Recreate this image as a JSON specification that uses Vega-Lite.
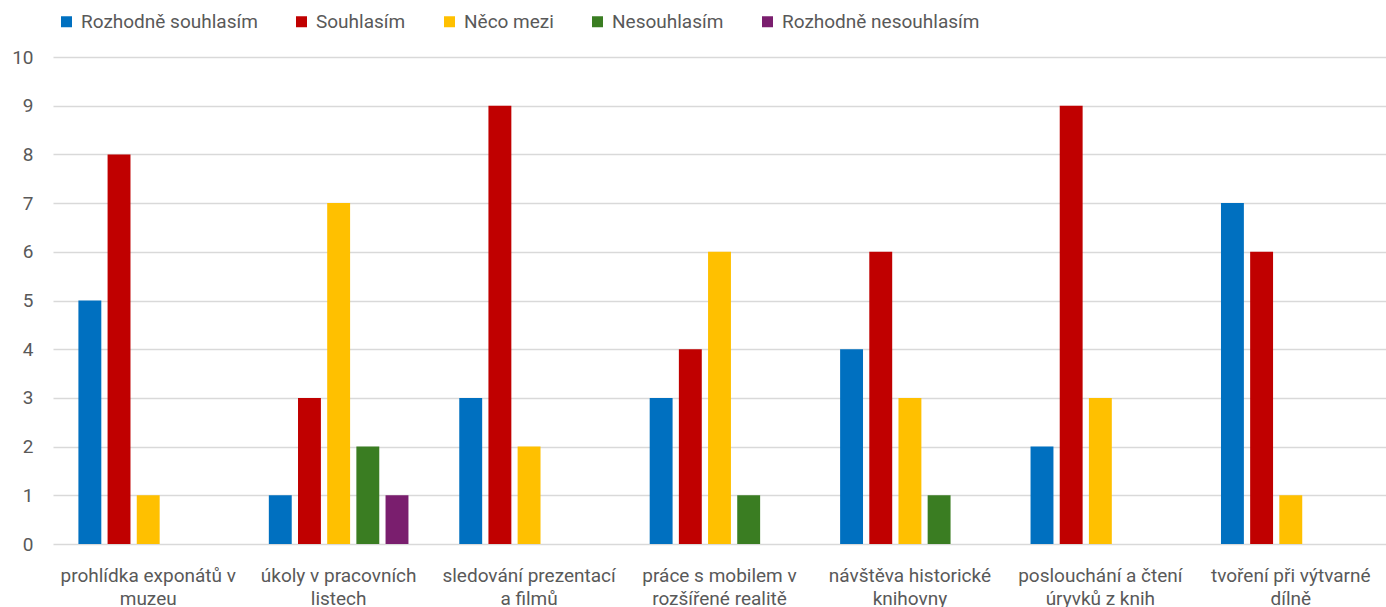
{
  "$schema": "https://vega.github.io/schema/vega-lite/v6.json",
  "autosize": {"type": "none"},
  "padding": {"left": 53, "top": 57, "right": 0, "bottom": 63},
  "width": 1333,
  "height": 487,
  "background": "white",
  "config": {
    "view": {"stroke": null},
    "font": "Roboto",
    "axis": {"labelFont": "Roboto", "labelColor": "#595959", "labelFontSize": 19},
    "legend": {"labelFont": "Roboto", "labelColor": "#595959", "labelFontSize": 19}
  },
  "data": {
    "values": [
      {"kategorie": "prohlídka exponátů v\nmuzeu", "odpoved": "Rozhodně souhlasím", "pocet": 5},
      {"kategorie": "prohlídka exponátů v\nmuzeu", "odpoved": "Souhlasím", "pocet": 8},
      {"kategorie": "prohlídka exponátů v\nmuzeu", "odpoved": "Něco mezi", "pocet": 1},
      {"kategorie": "prohlídka exponátů v\nmuzeu", "odpoved": "Nesouhlasím", "pocet": 0},
      {"kategorie": "prohlídka exponátů v\nmuzeu", "odpoved": "Rozhodně nesouhlasím", "pocet": 0},
      {"kategorie": "úkoly v pracovních\nlistech", "odpoved": "Rozhodně souhlasím", "pocet": 1},
      {"kategorie": "úkoly v pracovních\nlistech", "odpoved": "Souhlasím", "pocet": 3},
      {"kategorie": "úkoly v pracovních\nlistech", "odpoved": "Něco mezi", "pocet": 7},
      {"kategorie": "úkoly v pracovních\nlistech", "odpoved": "Nesouhlasím", "pocet": 2},
      {"kategorie": "úkoly v pracovních\nlistech", "odpoved": "Rozhodně nesouhlasím", "pocet": 1},
      {"kategorie": "sledování prezentací\na filmů", "odpoved": "Rozhodně souhlasím", "pocet": 3},
      {"kategorie": "sledování prezentací\na filmů", "odpoved": "Souhlasím", "pocet": 9},
      {"kategorie": "sledování prezentací\na filmů", "odpoved": "Něco mezi", "pocet": 2},
      {"kategorie": "sledování prezentací\na filmů", "odpoved": "Nesouhlasím", "pocet": 0},
      {"kategorie": "sledování prezentací\na filmů", "odpoved": "Rozhodně nesouhlasím", "pocet": 0},
      {"kategorie": "práce s mobilem v\nrozšířené realitě", "odpoved": "Rozhodně souhlasím", "pocet": 3},
      {"kategorie": "práce s mobilem v\nrozšířené realitě", "odpoved": "Souhlasím", "pocet": 4},
      {"kategorie": "práce s mobilem v\nrozšířené realitě", "odpoved": "Něco mezi", "pocet": 6},
      {"kategorie": "práce s mobilem v\nrozšířené realitě", "odpoved": "Nesouhlasím", "pocet": 1},
      {"kategorie": "práce s mobilem v\nrozšířené realitě", "odpoved": "Rozhodně nesouhlasím", "pocet": 0},
      {"kategorie": "návštěva historické\nknihovny", "odpoved": "Rozhodně souhlasím", "pocet": 4},
      {"kategorie": "návštěva historické\nknihovny", "odpoved": "Souhlasím", "pocet": 6},
      {"kategorie": "návštěva historické\nknihovny", "odpoved": "Něco mezi", "pocet": 3},
      {"kategorie": "návštěva historické\nknihovny", "odpoved": "Nesouhlasím", "pocet": 1},
      {"kategorie": "návštěva historické\nknihovny", "odpoved": "Rozhodně nesouhlasím", "pocet": 0},
      {"kategorie": "poslouchání a čtení\núryvků z knih", "odpoved": "Rozhodně souhlasím", "pocet": 2},
      {"kategorie": "poslouchání a čtení\núryvků z knih", "odpoved": "Souhlasím", "pocet": 9},
      {"kategorie": "poslouchání a čtení\núryvků z knih", "odpoved": "Něco mezi", "pocet": 3},
      {"kategorie": "poslouchání a čtení\núryvků z knih", "odpoved": "Nesouhlasím", "pocet": 0},
      {"kategorie": "poslouchání a čtení\núryvků z knih", "odpoved": "Rozhodně nesouhlasím", "pocet": 0},
      {"kategorie": "tvoření při výtvarné\ndílně", "odpoved": "Rozhodně souhlasím", "pocet": 7},
      {"kategorie": "tvoření při výtvarné\ndílně", "odpoved": "Souhlasím", "pocet": 6},
      {"kategorie": "tvoření při výtvarné\ndílně", "odpoved": "Něco mezi", "pocet": 1},
      {"kategorie": "tvoření při výtvarné\ndílně", "odpoved": "Nesouhlasím", "pocet": 0},
      {"kategorie": "tvoření při výtvarné\ndílně", "odpoved": "Rozhodně nesouhlasím", "pocet": 0}
    ]
  },
  "mark": {"type": "bar"},
  "encoding": {
    "x": {
      "field": "kategorie",
      "type": "nominal",
      "sort": null,
      "scale": {"paddingInner": 0.234, "paddingOuter": 0.117},
      "axis": {
        "title": null,
        "labelAngle": 0,
        "labelExpr": "split(datum.label, '\\n')",
        "labelLineHeight": 23,
        "labelPadding": 22,
        "ticks": false,
        "domain": false,
        "labelLimit": 300
      }
    },
    "xOffset": {
      "field": "odpoved",
      "type": "nominal",
      "sort": ["Rozhodně souhlasím", "Souhlasím", "Něco mezi", "Nesouhlasím", "Rozhodně nesouhlasím"],
      "scale": {"paddingInner": 0.215, "paddingOuter": 0.107}
    },
    "y": {
      "field": "pocet",
      "type": "quantitative",
      "scale": {"domain": [0, 10], "nice": false},
      "axis": {
        "title": null,
        "values": [0, 1, 2, 3, 4, 5, 6, 7, 8, 9, 10],
        "domain": false,
        "ticks": false,
        "labelPadding": 20,
        "gridColor": "#D9D9D9",
        "gridWidth": 1.5
      }
    },
    "color": {
      "field": "odpoved",
      "type": "nominal",
      "sort": ["Rozhodně souhlasím", "Souhlasím", "Něco mezi", "Nesouhlasím", "Rozhodně nesouhlasím"],
      "scale": {
        "domain": ["Rozhodně souhlasím", "Souhlasím", "Něco mezi", "Nesouhlasím", "Rozhodně nesouhlasím"],
        "range": ["#0070C0", "#C00000", "#FFC000", "#3A7D22", "#7A1E6E"]
      },
      "legend": {
        "title": null,
        "orient": "none",
        "direction": "horizontal",
        "legendX": 4,
        "legendY": -45,
        "padding": 0,
        "symbolType": "square",
        "symbolSize": 121,
        "symbolStrokeWidth": 0,
        "labelOffset": 5,
        "labelLimit": 400,
        "columnPadding": 34
      }
    }
  }
}
